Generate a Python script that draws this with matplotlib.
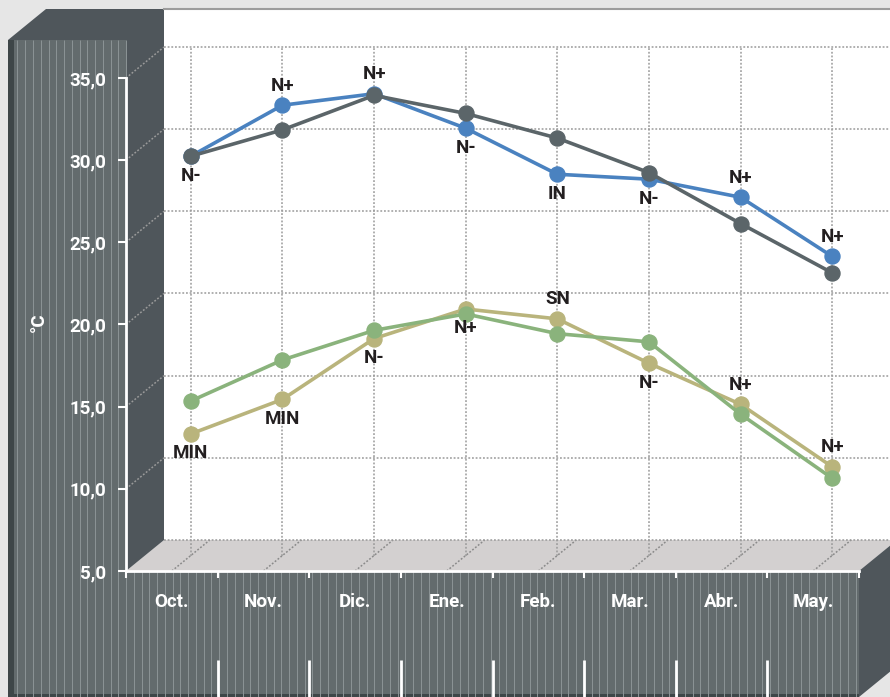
import matplotlib.pyplot as plt
from matplotlib.patches import Polygon, Rectangle
import numpy as np

plt.rcParams["font.family"] = ["Roboto", "DejaVu Sans"]

# data
months = ["Oct.", "Nov.", "Dic.", "Ene.", "Feb.", "Mar.", "Abr.", "May."]
y_ticks = [5, 10, 15, 20, 25, 30, 35]
y_tick_labels = ["5,0", "10,0", "15,0", "20,0", "25,0", "30,0", "35,0"]

blue_max = [29.3, 32.4, 33.1, 31.0, 28.2, 27.9, 26.8, 23.2]
gray_max = [29.3, 30.9, 33.0, 31.9, 30.4, 28.3, 25.2, 22.2]
khaki_min = [12.4, 14.5, 18.2, 20.0, 19.4, 16.7, 14.2, 10.4]
green_min = [14.4, 16.9, 18.7, 19.7, 18.5, 18.0, 13.6, 9.7]

blue_labels = ["N-", "N+", "N+", "N-", "IN", "N-", "N+", "N+"]
khaki_labels = ["MIN", "MIN", "N-", "N+", "SN", "N-", "N+", "N+"]
# +1 = text above the point, -1 = below
blue_side = [-1, 1, 1, -1, -1, -1, 1, 1]
khaki_side = [-1, -1, -1, -1, 1, -1, 1, 1]

# box geometry in pixels
W, H = 890, 697
X0, X1 = 126, 859      # front plot edges
Y0, YTOP = 571, 78     # front floor line and 35,0 tick
DX, DY = 38, 31        # depth offset of the back wall
SLAB_L, SLAB_T = 8, 40

BG = "#e6e6e6"
WALL = "#4f565b"
FACE = "#636b6d"
STRIPE = "#8a9294"
EDGE = "#3e4648"
FLOOR = "#d3d0d0"
GRID = "#9a9a9a"
TEXT = "#231f20"
FS = 13.5

fig = plt.figure(figsize=(W / 100, H / 100), dpi=100, facecolor=BG)

# pixel-space layer for the walls of the 3-D box
bg = fig.add_axes([0, 0, 1, 1], zorder=0)
bg.set_xlim(0, W)
bg.set_ylim(H, 0)
bg.axis("off")

cw = (X1 - X0) / len(months)
scale = (Y0 - YTOP) / (y_ticks[-1] - y_ticks[0])


def y_front(v):
    return Y0 - (v - y_ticks[0]) * scale


# back wall and top border
bg.add_patch(Rectangle((X0 + DX, 10), W - X0 - DX, Y0 - DY - 10, color="white", lw=0))
bg.plot([X0 + DX, W], [9, 9], color="#9c9c9c", lw=1.5)

# floor
bg.add_patch(Polygon([(X0, Y0), (X0 + DX, Y0 - DY), (X1 + DX, Y0 - DY), (X1, Y0)],
                     closed=True, color=FLOOR, lw=0))

# left side wall + top of the slab
bg.add_patch(Polygon([(SLAB_L, SLAB_T), (SLAB_L + DX, SLAB_T - DY), (X0 + DX, SLAB_T - DY),
                      (X0 + DX, Y0 - DY), (X0, Y0)], closed=True, color=WALL, lw=0))

# right face of the bottom slab
bg.add_patch(Polygon([(X1, Y0), (X1 + DX, Y0 - DY), (X1 + DX, H - DY), (X1, H)],
                     closed=True, color=WALL, lw=0))

# striped front faces
bg.add_patch(Rectangle((SLAB_L, SLAB_T), X0 - SLAB_L, H - SLAB_T, color=FACE, lw=0))
bg.add_patch(Rectangle((X0, Y0), X1 - X0, H - Y0, color=FACE, lw=0))
for sx in np.arange(16.5, X1, 7.76):
    top = SLAB_T if sx < X0 else Y0
    bg.plot([round(sx) + 0.5] * 2, [top, H], color=STRIPE, lw=0.72,
            solid_capstyle="butt")
bg.add_patch(Rectangle((SLAB_L, SLAB_T), 6, H - SLAB_T, color=EDGE, lw=0))
bg.add_patch(Rectangle((SLAB_L, H - 3), X1 - SLAB_L, 3, color=EDGE, lw=0))

# long category separators at the bottom
for i in range(1, len(months)):
    bx = X0 + i * cw
    bg.plot([bx, bx], [660, H], color="white", lw=2, solid_capstyle="butt")

dot = (0, (1.2, 1.2))

# dotted depth lines on the side wall and the floor
for v in y_ticks[1:]:
    bg.plot([X0, X0 + DX], [y_front(v), y_front(v) - DY], color=GRID, lw=1.1, ls=dot)
for i in range(len(months)):
    fx = X0 + (i + 0.5) * cw
    bg.plot([fx, fx + DX], [Y0, Y0 - DY], color="#8a8a8a", lw=1.1, ls=dot)


def box(dx, dy):
    return [(X0 + dx) / W, (H - Y0 + dy) / H, (X1 - X0) / W, (Y0 - YTOP) / H]


# back plane: horizontal grid
back = fig.add_axes(box(DX, DY), zorder=1)
back.set_xlim(-0.5, len(months) - 0.5)
back.set_ylim(y_ticks[0], y_ticks[-1])
back.axis("off")
back.patch.set_alpha(0)
for v in y_ticks:
    back.axhline(v, xmin=0, xmax=1.2, color=GRID, lw=1.1, ls=dot, clip_on=False)

# front plane: axes, ticks and labels
front = fig.add_axes(box(0, 0), zorder=2)
front.patch.set_alpha(0)
front.set_xlim(-0.5, len(months) - 0.5)
front.set_ylim(y_ticks[0], y_ticks[-1])
for s in ["top", "right"]:
    front.spines[s].set_visible(False)
for s in ["left", "bottom"]:
    front.spines[s].set_color("white")
    front.spines[s].set_linewidth(2)
front.set_yticks(y_ticks, y_tick_labels)
front.tick_params(axis="y", colors="white", length=6, width=1.5, pad=8,
                  labelsize=FS)
front.set_xticks(range(len(months)), months)
front.set_xticks(np.arange(-0.5, len(months)), minor=True)
front.tick_params(axis="x", which="major", colors="white", length=0, pad=16,
                  labelsize=FS)
front.tick_params(axis="x", which="minor", colors="white", length=5, width=1.5)
for t in front.get_xticklabels() + front.get_yticklabels():
    t.set_fontweight("bold")
front.set_ylabel("°C", color="white", fontsize=FS, fontweight="bold", rotation=90)
front.yaxis.set_label_coords(-78 / (X1 - X0), 0.505)

# mid-depth plane: vertical grid and the series
ax = fig.add_axes(box(DX / 2, DY / 2), zorder=3)
ax.patch.set_alpha(0)
ax.axis("off")
ax.set_xlim(-0.5, len(months) - 0.5)
ax.set_ylim(y_ticks[0], y_ticks[-1])
x = np.arange(len(months))
v_top = y_ticks[-1] + (DY / 2) / scale
ax.vlines(x, y_ticks[0], v_top, color=GRID, lw=1.1, ls=dot, clip_on=False)

series = [
    (khaki_min, "#b9b47c"),
    (green_min, "#8ab37c"),
    (blue_max, "#4a82c0"),
    (gray_max, "#5b6569"),
]
for vals, col in series:
    ax.plot(x, vals, color=col, lw=2.6, marker="o", ms=10.8, clip_on=False)

for vals, labels, sides in [(blue_max, blue_labels, blue_side),
                            (khaki_min, khaki_labels, khaki_side)]:
    for xi, v, lab, sd in zip(x, vals, labels, sides):
        ax.annotate(lab, (xi, v), xytext=(0, 14 * sd), textcoords="offset points",
                    ha="center", va="center", fontsize=FS, fontweight="bold",
                    color=TEXT)

fig.savefig("out.png", dpi=100, facecolor=BG)
